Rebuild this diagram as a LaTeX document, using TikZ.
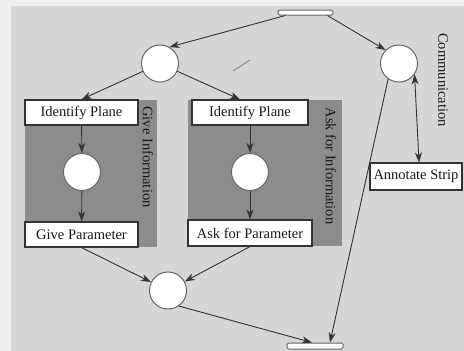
\documentclass[tikz,border=0pt]{standalone}
\usepackage{fontspec}
\setmainfont{Liberation Serif}
\usetikzlibrary{arrows.meta}
\definecolor{paper}{HTML}{EFEFEF}
\definecolor{field}{HTML}{D6D6D6}
\definecolor{panel}{HTML}{8C8C8C}
\definecolor{ink}{HTML}{333333}

\begin{document}
\begin{tikzpicture}[x=1pt,y=-1pt,
  place/.style={circle,draw=ink!75,fill=white,line width=1pt,minimum size=37pt,inner sep=0pt},
  task/.style={draw=ink,fill=white,line width=1.1pt,minimum height=25pt,inner sep=0pt,
               font=\fontsize{14.5}{16}\selectfont,text=black!90},
  bar/.style={draw=ink!75,fill=white,line width=1pt,rounded corners=1.5pt,
              minimum width=55pt,minimum height=5pt,inner sep=0pt},
  tip/.tip={Stealth[length=10pt,width=7pt,inset=3pt]},
  flow/.style={draw=ink,line width=0.9pt,-tip},
  lane/.style={font=\fontsize{14.5}{16}\selectfont,rotate=-90,text=black!90,inner sep=0pt}
]
\useasboundingbox (0,0) rectangle (464,351);
\fill[paper] (0,0) rectangle (464,351);
\fill[field] (11,6) rectangle (464,351);

% sub-net panels
\fill[panel] (25,100) rectangle (157,247);
\fill[panel] (188,100) rectangle (342,246);

% transitions (bars)
\node[bar] (tb) at (305.5,12.5) {};
\node[bar,minimum width=56pt,minimum height=6pt] (bb) at (315,346) {};

% places
\node[place] (c1) at (160,63.5) {};
\node[place] (c2) at (399,63.5) {};
\node[place] (p1) at (82,172) {};
\node[place] (p2) at (250,172) {};
\node[place] (c3) at (168,290.5) {};

% activities
\node[task,minimum width=113pt] (ip1) at (81.5,112.5) {Identify Plane};
\node[task,minimum width=113pt] (gp) at (81.5,234.5) {Give Parameter};
\node[task,minimum width=116pt] (ip2) at (250,112.5) {Identify Plane};
\node[task,minimum width=124pt,minimum height=26pt] (ap) at (250,233) {Ask for Parameter};
\node[task,minimum width=92pt,minimum height=27pt] (as) at (416,176.5) {Annotate Strip};

% lane titles
\node[lane] (gi) at (148,157) {Give Information};
\node[lane] (ai) at (331,166) {Ask for Information};
\node[lane] (cm) at (443,80) {Communication};

% small pen mark
\draw[ink!55,line width=1pt] (233,71) -- (250,60);

% flows
\draw[flow] ([xshift=-20pt]tb.south) -- (c1.60);
\draw[flow] ([xshift=22pt]tb.south) -- (c2.135);
\draw[flow] (c1) -- (ip1.north);
\draw[flow] (c1) -- ([xshift=-10pt]ip2.north);
\draw[flow] (ip1) -- (p1);
\draw[flow] (p1) -- (gp);
\draw[flow] (ip2) -- (p2);
\draw[flow] (p2) -- (ap);
\draw[flow] (gp.south) -- (c3);
\draw[flow] (ap.south) -- (c3);
\draw[flow] (c3.-55) -- ([xshift=-3pt]bb.north);
\draw[flow] (c2.235) -- ([xshift=15pt]bb.north);
\draw[flow,tip-tip] (c2.-35) -- ([xshift=3pt]as.north);
\end{tikzpicture}
\end{document}
